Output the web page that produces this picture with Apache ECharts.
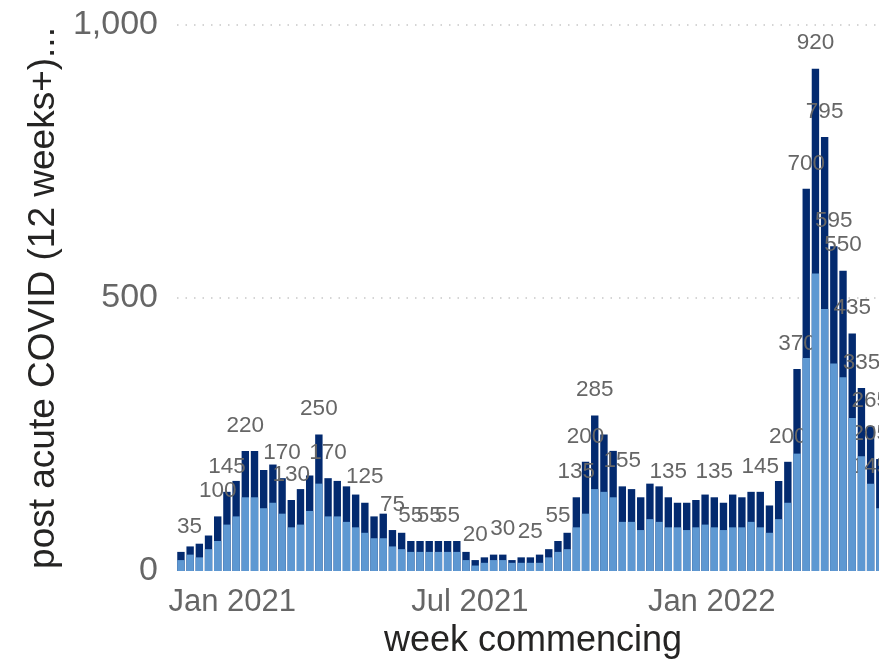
<!DOCTYPE html>
<html>
<head>
<meta charset="utf-8">
<script src="https://cdn.jsdelivr.net/npm/echarts@6/dist/echarts.min.js"></script>
<style>
html,body{margin:0;padding:0;background:#ffffff;}
#chart{width:879px;height:660px;}
</style>
</head>
<body>
<div id="chart"></div>
<script>
// ---- data ----
const firstWeek = '2020-11-23';
const weekCount = 78;
const lightValues = [20,30,25,40,55,85,100,135,135,115,
  125,105,80,85,110,160,100,100,90,80,
  70,60,60,45,40,35,35,35,35,35,
  35,20,10,15,20,20,15,15,15,15,
  25,35,40,80,105,150,145,135,90,90,
  75,95,90,80,80,75,80,85,80,75,
  80,80,90,80,70,95,125,215,390,545,
  480,380,355,280,210,160,115,95];
const darkValues = [15,15,25,25,45,60,65,85,85,70,
  70,65,50,65,65,90,70,65,65,60,
  55,40,45,30,30,20,20,20,20,20,
  20,15,10,10,10,10,5,10,10,15,
  15,20,30,55,95,135,105,85,65,60,
  60,65,65,55,45,50,50,55,55,50,
  60,55,55,65,50,70,75,155,310,375,
  315,215,195,155,125,105,90,50];
const labelledWeeks = [0,4,5,7,11,12,15,16,20,23,25,27,29,32,35,38,41,43,44,45,48,53,58,63,66,67,68,69,70,71,72,73,74,75,76,77];
const xTickDates = ['2021-01-01','2021-07-01','2022-01-01'];
const xTickLabels = ['Jan 2021','Jul 2021','Jan 2022'];
const yMax = 1000;
const yStep = 500;
const xTitle = 'week commencing';
const yTitle = 'post acute COVID (12 weeks+)...';

// ---- helpers ----
const DAY = 86400000;
function ts(s){ const p = s.split('-'); return Date.UTC(+p[0], +p[1]-1, +p[2]); }
const weeks = [];
for (let i = 0; i < weekCount; i++) weeks.push(ts(firstWeek) + i * 7 * DAY);
const tickTs = xTickDates.map(ts);
// stacked top = light + dark (the dark segment sits on the light one)
const stackTop = lightValues.map(function (v, i) { return v + darkValues[i]; });

const LIGHT = '#5E98D2';
const DARK = '#032A6F';
const FONT = '"Liberation Sans", Arial, sans-serif';
const PLOT_LEFT = 177;
const PLOT_RIGHT = 889;

const chart = echarts.init(document.getElementById('chart'), null, {renderer: 'canvas'});
chart.setOption({
  animation: false,
  backgroundColor: '#ffffff',
  grid: {left: PLOT_LEFT, right: 879 - PLOT_RIGHT, top: 25, bottom: 89, containLabel: false, outerBoundsMode: 'none'},
  xAxis: {
    type: 'value',
    min: weeks[0] - 3 * DAY,
    max: weeks[0] + 539 * DAY,
    axisLine: {show: false},
    axisTick: {show: false},
    splitLine: {show: false},
    axisLabel: {
      customValues: tickTs,
      formatter: function (v) {
        let best = -1, bd = Infinity;
        tickTs.forEach(function (t, k) { const d = Math.abs(t - v); if (d < bd) { bd = d; best = k; } });
        return bd < DAY ? xTickLabels[best] : '';
      },
      color: '#666666', fontSize: 31, fontFamily: FONT, margin: 16,
      showMinLabel: true, showMaxLabel: true
    },
    name: xTitle,
    nameLocation: 'middle',
    nameGap: 51,
    nameTextStyle: {color: '#252423', fontSize: 36, fontFamily: FONT}
  },
  yAxis: {
    type: 'value',
    min: 0, max: yMax, interval: yStep,
    axisLine: {show: false},
    axisTick: {show: false},
    axisLabel: {
      color: '#666666', fontSize: 34, fontFamily: FONT, margin: 19,
      formatter: function (v) { return String(v).replace(/\B(?=(\d{3})+(?!\d))/g, ','); }
    },
    splitLine: {show: true, showMinLine: false, lineStyle: {color: '#c8c8c8', type: [1.5, 7], width: 1.5}},
    name: yTitle,
    nameLocation: 'middle',
    nameGap: 114,
    nameRotate: 90,
    nameTextStyle: {color: '#252423', fontSize: 37, fontFamily: FONT}
  },
  series: [
    {
      type: 'bar', name: 'dark', barWidth: 7.4, barGap: '-100%', z: 2,
      itemStyle: {color: DARK},
      data: weeks.map(function (w, i) { return [w, stackTop[i]]; }),
      label: {
        show: true, position: 'top', distance: 14,
        color: '#666666', fontSize: 22.5, fontFamily: FONT,
        formatter: function (p) {
          const i = p.dataIndex;
          return labelledWeeks.indexOf(i) >= 0 ? String(stackTop[i]) : '';
        }
      },
      labelLayout: function (p) {
        const r = p.labelRect;
        if (!r || !r.width) return {};
        if (r.x < PLOT_LEFT) return {dx: PLOT_LEFT - r.x};
        if (r.x + r.width > PLOT_RIGHT) return {dx: PLOT_RIGHT - (r.x + r.width)};
        return {};
      }
    },
    {
      type: 'bar', name: 'light', barWidth: 7.4, barGap: '-100%', z: 3,
      itemStyle: {color: LIGHT},
      data: weeks.map(function (w, i) { return [w, lightValues[i]]; })
    }
  ]
});
</script>
</body>
</html>
